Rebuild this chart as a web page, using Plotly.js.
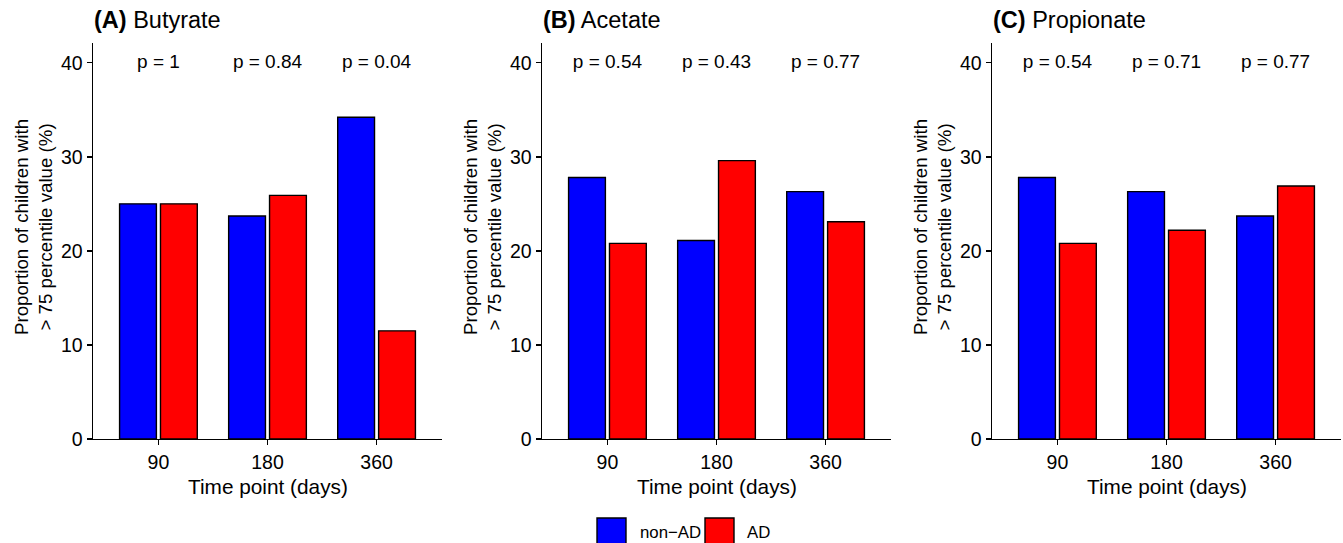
<!DOCTYPE html>
<html>
<head>
<meta charset="utf-8">
<script src="https://cdn.plot.ly/plotly-3.0.1.min.js"></script>
<style>html,body{margin:0;padding:0;background:#fff;}#chart{width:1343px;height:543px;}</style>
</head>
<body>
<div id="chart"></div>
<script>
// ---- data ----
const timePoints = ['90', '180', '360'];
const panelLetters = ['(A)', '(B)', '(C)'];
const panelNames = ['Butyrate', 'Acetate', 'Propionate'];
const butyrateNonAD = [25.0, 23.7, 34.2];
const butyrateAD = [25.0, 25.9, 11.5];
const acetateNonAD = [27.8, 21.1, 26.3];
const acetateAD = [20.8, 29.6, 23.1];
const propionateNonAD = [27.8, 26.3, 23.7];
const propionateAD = [20.8, 22.2, 26.9];
const butyrateP = ['p = 1', 'p = 0.84', 'p = 0.04'];
const acetateP = ['p = 0.54', 'p = 0.43', 'p = 0.77'];
const propionateP = ['p = 0.54', 'p = 0.71', 'p = 0.77'];
const pLabelLevel = 40;
const groupNames = ['non\u2212AD', 'AD'];
const yTitle = 'Proportion of children with<br>> 75 percentile value (%)';
const xTitle = 'Time point (days)';

// ---- layout helpers ----
const W = 1343, H = 543;
const FONT = 'Liberation Sans, Arial, Helvetica, sans-serif';
const px = x => x / W;
const py = y => 1 - y / H;
const panelLeft = [93, 542, 992];
const panelWidth = 349;
const plotTop = 43, plotBottom = 439;

const nonAD = [butyrateNonAD, acetateNonAD, propionateNonAD];
const ad = [butyrateAD, acetateAD, propionateAD];
const pvals = [butyrateP, acetateP, propionateP];
const colors = ['#0000FF', '#FF0000'];

const traces = [];
const annotations = [];
const layout = {
  width: W, height: H,
  margin: {l: 0, r: 0, t: 0, b: 0},
  paper_bgcolor: '#fff', plot_bgcolor: '#fff',
  barmode: 'group', bargap: 0.25, bargroupgap: 0.1,
  showlegend: false,
  font: {family: FONT, color: '#000', size: 18},
  annotations: annotations,
  shapes: []
};

for (let i = 0; i < 3; i++) {
  const sfx = i === 0 ? '' : String(i + 1);
  const xa = 'x' + sfx, ya = 'y' + sfx;
  [nonAD[i], ad[i]].forEach((vals, k) => {
    traces.push({
      type: 'bar', x: timePoints, y: vals, xaxis: xa, yaxis: ya,
      name: groupNames[k],
      marker: {color: colors[k], line: {color: '#000', width: 1.4}},
      hoverinfo: 'skip'
    });
  });
  // p-value labels as a text trace on the same axes
  traces.push({
    type: 'scatter', mode: 'text', x: timePoints,
    y: timePoints.map(() => pLabelLevel), text: pvals[i],
    xaxis: xa, yaxis: ya, textposition: 'middle center',
    textfont: {family: FONT, size: 19, color: '#000'},
    hoverinfo: 'skip', showlegend: false
  });
  const axisCommon = {
    showgrid: false, zeroline: false, showline: true, linecolor: '#000', linewidth: 1.4,
    ticks: 'outside', ticklen: 5, tickwidth: 1.4, tickcolor: '#000',
    tickfont: {family: FONT, size: 19.5, color: '#000'}
  };
  layout['xaxis' + sfx] = Object.assign({}, axisCommon, {
    type: 'category', range: [-0.6, 2.6],
    domain: [px(panelLeft[i]), px(panelLeft[i] + panelWidth)],
    anchor: ya
  });
  layout['yaxis' + sfx] = Object.assign({}, axisCommon, {
    range: [0, 42.1], tickvals: [0, 10, 20, 30, 40],
    domain: [py(plotBottom), py(plotTop)],
    anchor: xa
  });
  // panel title
  annotations.push({
    xref: 'paper', yref: 'paper', x: px(panelLeft[i] - 1), y: py(20),
    xanchor: 'left', yanchor: 'middle', showarrow: false,
    text: '<b>' + panelLetters[i] + '</b> ' + panelNames[i],
    font: {family: FONT, size: 23.5, color: '#000'}
  });
  // x title
  annotations.push({
    xref: 'paper', yref: 'paper', x: px(panelLeft[i] + panelWidth / 2), y: py(486),
    xanchor: 'center', yanchor: 'middle', showarrow: false,
    text: xTitle, font: {family: FONT, size: 20.8, color: '#000'}
  });
  // y title
  annotations.push({
    xref: 'paper', yref: 'paper', x: px(panelLeft[i] - 59), y: py(227),
    xanchor: 'center', yanchor: 'middle', showarrow: false, textangle: -90,
    text: yTitle, font: {family: FONT, size: 18.7, color: '#000'}
  });
}

// legend (manual keys)
const legendKeys = [{x0: 597, text: groupNames[0], tx: 638}, {x0: 705, text: groupNames[1], tx: 745}];
legendKeys.forEach((k, idx) => {
  layout.shapes.push({
    type: 'rect', xref: 'paper', yref: 'paper',
    x0: px(k.x0), x1: px(k.x0 + 29), y0: py(547), y1: py(518),
    fillcolor: colors[idx], line: {color: '#000', width: 1.4}
  });
  annotations.push({
    xref: 'paper', yref: 'paper', x: px(k.tx), y: py(532),
    xanchor: 'left', yanchor: 'middle', showarrow: false,
    text: k.text, font: {family: FONT, size: 16.8, color: '#000'}
  });
});

Plotly.newPlot('chart', traces, layout, {staticPlot: true, displayModeBar: false});
</script>
</body>
</html>
